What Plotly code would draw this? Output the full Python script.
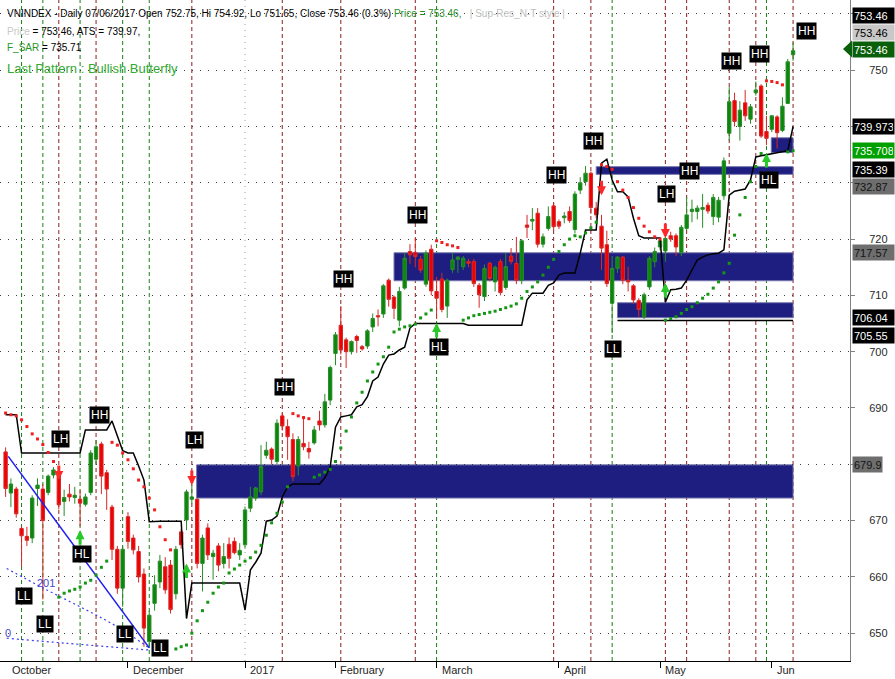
import plotly.graph_objects as go

FONT = "Liberation Sans, Arial, sans-serif"
FONT_W = "Liberation Sans, Arial, sans-serif"

# ---------------- data (bar 0 = 31-Oct-2016 ... bar 148 = 07-Jun-2017) ----------------
opens = [682.2, 674.9, 675.6, 668.6, 667.2, 666.9, 675.7, 675.6, 675.0, 678.1,
         678.1, 673.4, 674.7, 674.1, 673.8, 672.9, 675.0, 680.9, 683.6, 678.5,
         672.4, 664.9, 658.0, 670.7, 666.9, 664.5, 660.5, 648.5, 655.3, 659.1,
         661.8, 662.1, 657.0, 668.0, 670.1, 673.8, 673.8, 662.4, 668.7, 663.6,
         665.5, 662.4, 665.8, 666.3, 663.9, 665.7, 672.2, 674.0, 675.1, 681.6,
         682.7, 680.5, 688.6, 686.7, 684.4, 679.7, 683.7, 682.8, 683.8, 687.7,
         687.0, 691.4, 699.7, 704.7, 702.1, 700.0, 702.7, 700.9, 701.0, 704.4,
         706.4, 706.7, 712.7, 709.7, 705.6, 711.3, 717.8, 717.6, 716.4, 712.0,
         718.2, 710.7, 712.9, 708.1, 714.6, 716.4, 715.1, 716.0, 716.0, 711.8,
         709.8, 715.7, 712.4, 716.0, 711.4, 717.0, 715.7, 712.7, 722.5, 723.2,
         724.6, 719.1, 721.9, 725.9, 723.1, 723.8, 724.9, 721.7, 728.7, 730.2,
         731.7, 725.5, 722.3, 719.0, 708.6, 714.8, 716.8, 712.7, 711.7, 709.1,
         706.2, 711.5, 716.0, 718.6, 717.9, 720.6, 720.6, 717.6, 721.9, 724.9,
         724.9, 725.3, 726.0, 724.0, 723.9, 727.7, 738.8, 744.6, 740.0, 744.2,
         741.3, 746.0, 747.2, 739.1, 739.5, 741.7, 739.3, 744.1, 752.75]
highs = [683.0, 677.5, 676.0, 669.0, 668.9, 674.5, 677.5, 676.5, 678.2, 679.5,
         679.5, 675.5, 676.5, 676.0, 675.4, 674.8, 682.5, 684.3, 684.0, 679.0,
         672.8, 665.5, 665.5, 671.5, 667.5, 665.5, 661.5, 654.0, 660.3, 663.9,
         663.5, 663.0, 665.5, 668.5, 675.5, 676.3, 674.0, 667.5, 669.5, 664.8,
         666.0, 666.0, 667.0, 667.0, 666.0, 672.5, 676.0, 676.0, 683.4, 684.0,
         683.0, 688.0, 689.1, 688.0, 685.5, 685.0, 688.5, 684.0, 686.8, 689.5,
         692.5, 697.5, 703.5, 708.1, 702.5, 702.0, 703.0, 701.2, 704.0, 706.8,
         707.5, 712.0, 713.0, 710.0, 711.5, 717.5, 719.1, 720.2, 717.0, 718.0,
         719.0, 713.3, 714.0, 713.0, 717.5, 717.0, 717.0, 716.5, 716.5, 712.2,
         715.5, 716.0, 715.3, 716.5, 717.5, 718.4, 720.4, 720.0, 724.3, 725.5,
         725.5, 721.0, 725.8, 726.4, 723.5, 724.8, 725.8, 728.5, 731.0, 733.0,
         732.0, 726.6, 724.3, 721.5, 717.0, 717.0, 717.0, 715.1, 712.0, 709.5,
         710.5, 717.0, 718.5, 720.0, 721.0, 721.3, 721.0, 722.5, 727.5, 727.0,
         726.0, 728.0, 726.5, 728.0, 727.5, 734.5, 747.0, 746.0, 744.5, 746.5,
         744.0, 748.0, 747.5, 741.9, 742.0, 742.0, 745.2, 752.0, 754.92]
lows = [674.2, 672.4, 670.5, 661.8, 665.5, 666.0, 672.6, 656.0, 674.5, 677.5,
        672.0, 670.8, 673.4, 673.0, 669.0, 672.5, 674.5, 680.0, 674.7, 671.9,
        663.0, 657.0, 654.7, 665.0, 664.0, 659.0, 647.6, 647.4, 654.0, 658.0,
        657.0, 653.5, 656.0, 665.0, 668.3, 673.0, 661.5, 657.4, 663.0, 659.5,
        661.0, 661.5, 661.5, 664.0, 663.0, 665.0, 671.5, 673.5, 674.5, 681.0,
        680.0, 680.0, 686.0, 680.8, 677.0, 678.0, 682.5, 681.0, 683.5, 686.0,
        686.5, 690.5, 697.6, 699.5, 697.1, 699.5, 699.8, 700.2, 700.5, 703.5,
        704.5, 706.0, 708.0, 705.8, 704.5, 711.0, 715.6, 715.0, 714.0, 711.5,
        710.0, 705.8, 707.0, 706.0, 714.0, 714.0, 714.5, 715.0, 711.5, 707.8,
        709.0, 712.5, 710.7, 710.0, 711.0, 715.5, 712.0, 712.0, 720.2, 721.6,
        718.5, 718.5, 721.5, 721.5, 721.8, 722.8, 722.9, 721.0, 728.0, 729.5,
        724.5, 723.7, 714.5, 711.5, 703.3, 714.0, 712.0, 710.7, 708.5, 706.2,
        705.8, 711.0, 715.0, 718.0, 716.0, 719.5, 717.0, 717.0, 721.5, 723.0,
        723.5, 722.0, 724.5, 722.5, 723.0, 727.0, 737.5, 740.0, 737.5, 741.0,
        740.5, 745.5, 738.0, 736.7, 739.0, 736.1, 739.0, 744.0, 751.65]
closes = [675.7, 676.5, 671.2, 667.3, 666.5, 674.0, 676.3, 670.0, 677.9, 679.0,
          672.8, 674.1, 674.2, 674.5, 673.1, 674.2, 682.0, 683.1, 677.9, 675.6,
          664.9, 658.0, 664.9, 666.3, 664.8, 660.0, 650.9, 653.2, 658.6, 662.8,
          657.7, 654.2, 664.9, 665.7, 675.1, 674.2, 662.4, 666.9, 663.9, 664.2,
          662.1, 663.6, 663.3, 664.3, 664.7, 671.9, 674.2, 675.8, 679.6, 682.5,
          680.9, 687.3, 686.8, 684.9, 677.8, 684.4, 683.1, 682.2, 686.1, 687.0,
          691.1, 697.2, 703.0, 700.3, 700.0, 701.8, 702.0, 700.5, 703.7, 705.9,
          706.2, 711.7, 709.3, 707.7, 710.7, 716.6, 717.2, 716.9, 714.5, 717.5,
          710.8, 709.5, 707.5, 712.7, 716.3, 716.8, 716.6, 715.7, 712.1, 710.1,
          714.8, 713.0, 715.0, 710.5, 715.1, 716.0, 712.7, 719.7, 722.1, 723.5,
          719.1, 720.4, 724.0, 722.2, 722.3, 724.1, 723.3, 728.0, 730.0, 731.7,
          725.6, 724.3, 718.4, 712.1, 714.8, 716.8, 712.7, 712.4, 709.2, 707.5,
          710.1, 716.6, 717.8, 719.7, 720.1, 720.0, 718.6, 722.1, 724.3, 725.3,
          725.5, 725.6, 725.0, 727.4, 726.9, 733.9, 744.4, 740.9, 742.9, 741.9,
          743.5, 746.5, 738.3, 737.9, 741.9, 738.9, 743.6, 751.5, 753.46]

# Parabolic SAR (F_SAR)
sar = [689.1, 688.8, 688.6, 687.9, 686.7, 685.4, 684.5, 683.5, 682.1, 680.5,
       656.4, 657.1, 657.5, 657.8, 658.2, 658.9, 659.4, 660.3, 661.7, 662.8,
       683.9, 683.4, 682.0, 680.8, 679.2, 677.2, 676.0, 674.0, 671.9, 668.9,
       666.6, 664.8, 647.2, 647.6, 647.9, 650.0, 652.2, 654.0, 655.5, 657.1,
       658.2, 658.9, 660.7, 661.4, 662.1, 662.8, 663.4, 664.4, 665.6, 667.4,
       669.6, 671.3, 673.3, 676.0, 689.0, 688.6, 688.3, 688.1, 677.7, 678.1,
       678.6, 679.1, 680.5, 682.9, 685.9, 688.4, 690.9, 692.8, 694.8, 696.4,
       697.8, 699.1, 700.8, 703.5, 704.0, 704.4, 704.6, 704.9, 706.0, 706.7,
       707.4, 719.7, 719.4, 719.0, 718.8, 718.5, 705.6, 706.0, 706.4, 706.6,
       706.8, 707.0, 707.2, 707.5, 707.8, 708.1, 708.5, 709.5, 710.7, 711.5,
       712.4, 713.6, 715.0, 716.4, 717.8, 719.0, 720.0, 720.6, 720.4, 721.1,
       722.0, 723.0, 733.2, 732.9, 732.4, 730.2, 728.7, 727.4, 725.6, 723.7,
       722.3, 721.3, 720.4, 720.0, 705.6, 705.9, 706.2, 706.8, 707.5, 708.0,
       708.7, 709.5, 710.2, 711.3, 712.4, 714.0, 715.7, 720.7, 724.3, 727.4,
       730.2, 732.9, 735.2, 748.1, 748.0, 747.8, 747.4, 735.5, 735.71]

# ATS trailing stop
ats = [688.8, 688.8, 688.8, 682.0, 682.0, 682.0, 682.0, 682.0, 682.0, 682.0,
       682.0, 682.0, 682.0, 682.0, 682.0, 686.1, 686.1, 686.1, 686.1, 686.1,
       687.7, 685.2, 682.4, 682.0, 682.0, 679.7, 677.2, 669.8, 669.9, 669.9,
       669.9, 669.9, 669.9, 669.9, 652.6, 658.9, 658.9, 658.9, 658.9, 658.9,
       658.9, 658.9, 658.9, 658.9, 658.9, 654.1, 661.2, 662.6, 664.2, 669.9,
       670.1, 670.8, 674.2, 676.0, 676.5, 676.5, 676.5, 676.5, 676.5, 676.5,
       677.6, 679.5, 686.6, 688.4, 688.6, 688.8, 690.2, 690.6, 692.0, 694.8,
       695.5, 697.8, 699.4, 699.6, 700.3, 700.8, 704.2, 705.0, 705.0, 705.0,
       705.0, 705.0, 705.0, 705.0, 705.0, 705.0, 705.0, 704.7, 704.7, 704.7,
       704.7, 704.7, 704.7, 704.7, 704.7, 704.7, 704.7, 704.7, 709.2, 710.4,
       710.4, 710.4, 711.8, 712.2, 713.6, 714.0, 714.0, 714.0, 717.5, 721.6,
       721.6, 721.6, 733.5, 734.2, 730.5, 728.4, 728.4, 727.5, 723.7, 720.6,
       720.2, 720.2, 720.2, 720.2, 708.8, 711.0, 711.1, 711.3, 712.7, 714.5,
       716.3, 716.8, 717.2, 717.4, 717.5, 718.1, 727.8, 728.5, 728.7, 728.9,
       730.5, 734.6, 734.8, 735.0, 735.1, 735.3, 735.5, 735.7, 739.97]

bars = list(range(len(closes)))

# support / resistance zones
zone_start = [35.9, 73.0, 115.0, 111.0, 143.9]
zone_end = [148, 148, 148, 148, 148]
zone_top = [679.9, 717.57, 708.7, 732.87, 738.0]
zone_bottom = [674.0, 712.6, 706.04, 731.5, 735.39]
support_start, support_end, support_level = 115.0, 148, 705.55

# swing patterns
pat_text = ["LL", "LL", "LH", "HL", "HH", "LL", "LL", "LH", "HH", "HH", "HH",
            "HL", "HH", "HH", "LL", "LH", "HH", "HH", "HH", "HL", "HH"]
pat_bar = [3, 7, 10, 14, 17, 22, 27, 35, 52, 63, 77, 81, 103, 110, 114, 124,
           128, 136, 141, 143, 148]
pat_lab_x = [3.46, 7.4, 10.4, 14.4, 17.7, 22.4, 29.0, 35.5, 52.5, 63.55, 77.5,
             81.5, 103.6, 110.4, 114.2, 124.3, 128.5, 136.5, 141.6, 143.5, 150.6]
pat_lab_y = [656.6, 651.6, 684.5, 664.1, 688.8, 649.8, 647.4, 684.4, 693.7, 712.9,
             724.3, 700.9, 731.4, 737.4, 700.5, 728.0, 732.1, 751.6, 752.9, 730.5, 757.0]

# buy / sell arrows
arrow_bar = [10, 14, 34, 35, 81, 112, 124, 124, 143]
arrow_dir = ["down", "up", "up", "down", "up", "down", "down", "up", "up"]
arrow_tip = [677.2, 668.3, 662.4, 676.3, 705.1, 727.8, 720.2, 712.2, 735.3]

# blue trend / fan lines
trend_x = [0.5, 27.0]
trend_y = [681.4, 647.4]
fan1_x = [0.2, 7.1, 14.6, 20.9, 27.1]
fan1_y = [661.5, 658.0, 654.4, 651.2, 647.3]
fan2_x = [0.2, 11.5, 27.1]
fan2_y = [649.1, 648.2, 647.0]

# axis
month_idx = [23, 45, 62, 81, 104, 123, 144]
month_lab = ["December", "2017", "February", "March", "April", "May", "Jun"]
year_sep = 45
y_ticks = [650, 660, 670, 680, 690, 700, 710, 720, 730, 740, 750, 760]
y_tick_text = ["650", "660", "670", "", "690", "700", "710", "720", "", "", "750", ""]

# right-hand value labels
rl_text = ["753.46", "753.46", "753.46", "739.973", "735.708", "735.39", "732.87",
           "717.57", "706.04", "705.55", "679.9"]
rl_value = [753.46, 753.46, 753.46, 739.973, 735.708, 735.39, 732.87,
            717.57, 706.04, 705.55, 679.9]

Y_MIN, Y_MAX = 645.06, 762.47
X_MIN, X_MAX = -1.053, 158.7

fig = go.Figure()

# zones (below everything)
for s, e, t, b in zip(zone_start, zone_end, zone_top, zone_bottom):
    fig.add_shape(type="rect", xref="x", yref="y", x0=s, x1=e, y0=b, y1=t,
                  fillcolor="rgb(30,30,128)", line=dict(color="rgb(120,120,175)", width=1),
                  layer="below")
# year separator
fig.add_shape(type="line", xref="x", yref="paper", x0=year_sep, x1=year_sep, y0=0, y1=1,
              line=dict(color="#9a9a9a", width=1, dash="1px,5px"), layer="below")
# pattern vertical lines
for b, t in zip(pat_bar, pat_text):
    col = "rgb(20,130,20)" if t in ("LL", "HL") else "rgb(140,30,30)"
    fig.add_shape(type="line", xref="x", yref="paper", x0=b, x1=b, y0=0, y1=1,
                  line=dict(color=col, width=1, dash="4px,3px"), layer="below")

# support line
fig.add_trace(go.Scatter(x=[support_start, support_end], y=[support_level, support_level],
                         mode="lines", line=dict(color="black", width=1.5), hoverinfo="skip"))

# blue lines
fig.add_trace(go.Scatter(x=trend_x, y=trend_y, mode="lines",
                         line=dict(color="rgb(30,30,240)", width=1.5), hoverinfo="skip"))
fig.add_trace(go.Scatter(x=fan1_x, y=fan1_y, mode="lines", line_shape="spline",
                         line=dict(color="rgb(60,60,240)", width=1.2, dash="2px,3px"), hoverinfo="skip"))
fig.add_trace(go.Scatter(x=fan2_x, y=fan2_y, mode="lines", line_shape="spline",
                         line=dict(color="rgb(60,60,240)", width=1.2, dash="2px,3px"), hoverinfo="skip"))

# ATS line
fig.add_trace(go.Scatter(x=bars, y=ats, mode="lines",
                         line=dict(color="black", width=1.5), hoverinfo="skip"))

# SAR dots
sar_col = ["rgb(240,30,30)" if s > c else "rgb(20,150,20)" for s, c in zip(sar, closes)]
fig.add_trace(go.Scatter(x=bars, y=sar, mode="markers",
                         marker=dict(symbol="square", size=3, color=sar_col, line=dict(width=0)),
                         hoverinfo="skip"))

# candles
fig.add_trace(go.Candlestick(
    x=bars, open=opens, high=highs, low=lows, close=closes,
    increasing=dict(fillcolor="rgb(10,135,10)", line=dict(color="rgb(40,140,40)", width=1)),
    decreasing=dict(fillcolor="rgb(240,0,0)", line=dict(color="rgb(215,40,40)", width=1)),
    whiskerwidth=0, hoverinfo="skip"))

ann = []
# pattern labels
for x, y, t in zip(pat_lab_x, pat_lab_y, pat_text):
    ann.append(dict(x=x, y=y, xref="x", yref="y", text=t, showarrow=False,
                    bgcolor="black", borderpad=1,
                    font=dict(family=FONT_W, size=12, color="white")))
# arrows
for b, d, tip in zip(arrow_bar, arrow_dir, arrow_tip):
    col = "rgb(255,40,40)" if d == "down" else "rgb(40,200,40)"
    ann.append(dict(x=b, y=tip, xref="x", yref="y", text="", showarrow=True,
                    ax=0, ay=(-16 if d == "down" else 16), arrowhead=2, arrowsize=0.6,
                    arrowwidth=3, arrowcolor=col, standoff=0))
# fan texts
ann.append(dict(x=7.6, y=659.0, xref="x", yref="y", text="201", showarrow=False,
                font=dict(family=FONT, size=11, color="rgb(70,70,210)")))
ann.append(dict(x=0.5, y=650.0, xref="x", yref="y", text="0", showarrow=False,
                font=dict(family=FONT, size=11, color="rgb(70,70,210)")))

# header texts
hdr = [
    ("VNINDEX - Daily 07/06/2017 Open 752.75, Hi 754.92, Lo 751.65, Close 753.46 (0.3%) "
     "<span style='color:rgb(40,140,40)'>Price = 753.46,</span>   "
     "<span style='color:rgb(190,190,190)'>| Sup-Res_N-T style |</span>", 13, 10),
    ("<span style='color:rgb(200,200,200)'>Price</span> = 753.46, ATS = 739.97,", 31, 10),
    ("<span style='color:rgb(40,150,40)'>F_SAR</span> = 735.71", 47, 10),
    ("<span style='color:rgb(50,170,50)'>Last Pattern : Bullish Butterfly</span>", 68, 13),
]
for txt, py, sz in hdr:
    ann.append(dict(x=0, y=1, xref="paper", yref="paper", xanchor="left", yanchor="middle",
                    xshift=5, yshift=-py, text=txt, showarrow=False,
                    font=dict(family=FONT, size=sz, color="black")))

# right labels
rl_shift = [35.7, 18.7, 1.7, 0, 0, -16.7, -19.5, 0, 0, -15.5, 0]
rl_bg = ["black", "rgb(200,200,200)", "rgb(10,95,10)", "black", "rgb(0,160,0)", "black",
         "rgb(110,110,110)", "rgb(110,110,110)", "black", "black", "rgb(110,110,110)"]
rl_fg = ["white", "black", "white", "white", "white", "white", "rgb(20,20,20)",
         "rgb(20,20,20)", "white", "white", "rgb(20,20,20)"]
for t, v, sh, bg, fg in zip(rl_text, rl_value, rl_shift, rl_bg, rl_fg):
    ann.append(dict(x=1, y=v, xref="paper", yref="y", xanchor="left", yanchor="middle",
                    xshift=2, yshift=sh, text=t, showarrow=False, bgcolor=bg, borderpad=1,
                    width=(27 if t == "679.9" else 39), height=13, align="left",
                    font=dict(family=FONT, size=11, color=fg)))
# green pointer triangle for the last price label
yp = (753.46 + 0.3 - Y_MIN) / (Y_MAX - Y_MIN)
dy = 1.5 / (Y_MAX - Y_MIN)
fig.add_shape(type="path", xref="paper", yref="paper",
              path=f"M {843/850},{yp} L {852/850},{yp+dy} L {852/850},{yp-dy} Z",
              fillcolor="rgb(10,95,10)", line=dict(width=0), layer="above")

# month labels
ann.append(dict(x=0.8, y=0, xref="x", yref="paper", xanchor="left", yanchor="top",
                yshift=-1, text="October", showarrow=False,
                font=dict(family=FONT, size=11, color="rgb(30,30,30)")))
for m, lab in zip(month_idx, month_lab):
    ann.append(dict(x=m, y=0, xref="x", yref="paper", xanchor="left", yanchor="top",
                    xshift=3, yshift=-1, text=lab, showarrow=False,
                    font=dict(family=FONT, size=11, color="rgb(30,30,30)")))

fig.update_layout(
    width=895, height=679, margin=dict(l=0, r=45, t=0, b=18, pad=0),
    paper_bgcolor="white", plot_bgcolor="white", showlegend=False,
    boxgap=0.1, annotations=ann,
    font=dict(family=FONT, size=11, color="black"),
    xaxis=dict(range=[X_MIN, X_MAX], showgrid=False, zeroline=False, showline=True,
               linecolor="black", linewidth=1, ticks="outside", ticklen=6,
               tickcolor="black", tickvals=month_idx, showticklabels=False,
               rangeslider=dict(visible=False), fixedrange=True),
    yaxis=dict(range=[Y_MIN, Y_MAX], side="right", tickvals=y_ticks, ticktext=y_tick_text,
               showgrid=True, gridcolor="rgb(60,60,60)", griddash="1px,7px", gridwidth=1,
               zeroline=False, showline=True, linecolor="rgb(130,130,130)", linewidth=1,
               ticks="outside", ticklen=4, tickcolor="rgb(130,130,130)",
               ticklabelstandoff=12, tickfont=dict(family=FONT, size=11, color="rgb(40,40,40)"),
               fixedrange=True),
)

fig.write_html("out.html", config={"displayModeBar": False},
               post_script="document.body.style.margin='0';document.body.style.padding='0';"
                           "document.body.style.overflow='hidden';")
